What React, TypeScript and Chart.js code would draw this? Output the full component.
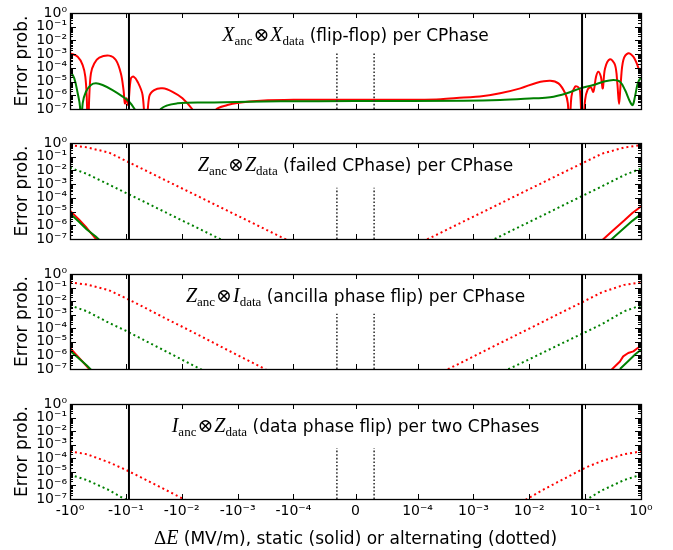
import React, { useEffect, useRef } from 'react';
import { Chart, Scale, registerables } from 'chart.js';

// ---------------- axis ticks ----------------
const X_MIN = -1;
const X_MAX = 1;
const X_TICK_VALUES = [-1, -0.1, -0.01, -0.001, -0.0001, 0, 0.0001, 0.001, 0.01, 0.1, 1];
const X_TICK_LABELS = ['-10⁰', '-10⁻¹', '-10⁻²', '-10⁻³', '-10⁻⁴', '0', '10⁻⁴', '10⁻³', '10⁻²', '10⁻¹', '10⁰'];
const Y_MIN = 1e-7;
const Y_MAX = 1;
const Y_DECADES = [1, 1e-1, 1e-2, 1e-3, 1e-4, 1e-5, 1e-6, 1e-7];
const Y_TICK_LABELS = ['10⁰', '10⁻¹', '10⁻²', '10⁻³', '10⁻⁴', '10⁻⁵', '10⁻⁶', '10⁻⁷'];

// ---------------- reference markers ----------------
const STATIC_LIMIT_X = [-0.088, 0.088];
const ALT_LIMIT_X = [-3e-5, 3e-5];
const ALT_LIMIT_TOP = [1.2e-3, 5.5e-4, 1.2e-3, 5.7e-4];

// ---------------- panel texts ----------------
const TITLE_OPS = [['X', 'X'], ['Z', 'Z'], ['Z', 'I'], ['I', 'Z']];
const TITLE_TEXTS = [
  '(flip-flop) per CPhase',
  '(failed CPhase) per CPhase',
  '(ancilla phase flip) per CPhase',
  '(data phase flip) per two CPhases',
];
const Y_TITLE = 'Error prob.';
const X_TITLE_REST = ' (MV/m), static (solid) or alternating (dotted)';

// ---------------- panel 1: flip-flop (static, solid) ----------------
const P1_RED_X = [-1, -0.728, -0.593, -0.532, -0.502, -0.477, -0.452, -0.422, -0.368, -0.299, -0.199, -0.151, -0.123, -0.11, -0.104, -0.097, -0.091, -0.0813, -0.0728, -0.0617, -0.0502, -0.0439, -0.0382, -0.0311, -0.022, -0.0146, -0.0097, -0.006, -0.0039, -0.0025, -0.00152, -0.000945, -0.00039, -0.0001, 0, 0.0001, 0.00026, 0.00067, 0.0013, 0.003, 0.0069, 0.0137, 0.0236, 0.0333, 0.0439, 0.049, 0.0524, 0.0568, 0.0661, 0.0757, 0.0813, 0.0894, 0.0998, 0.11, 0.126, 0.14, 0.157, 0.172, 0.191, 0.207, 0.227, 0.279, 0.343, 0.377, 0.405, 0.433, 0.483, 0.593, 0.728, 0.838, 0.93, 1];
const P1_RED_Y = [1.15e-3, 6.5e-4, 1.6e-4, 2.3e-5, 8e-7, 1e-9, 8e-7, 4e-5, 2.1e-4, 5.5e-4, 7.8e-4, 3.7e-4, 4e-5, 2.4e-6, 2.6e-7, 6e-7, 2e-7, 1.7e-5, 2.3e-5, 9.8e-6, 1.05e-6, 1e-9, 8e-7, 2.4e-6, 3.2e-6, 1.8e-6, 6e-7, 6e-8, 1e-9, 8e-8, 1.95e-7, 2.9e-7, 4e-7, 4.7e-7, 4.8e-7, 4.8e-7, 5.2e-7, 7e-7, 8e-7, 1.4e-6, 3.2e-6, 8.3e-6, 1.15e-5, 7.4e-6, 1.4e-6, 2.6e-7, 1e-9, 8e-7, 4.3e-6, 3.8e-6, 1.8e-6, 1e-9, 4.5e-7, 2.4e-6, 3.8e-6, 1.8e-6, 2.3e-5, 5.2e-5, 2.3e-5, 3.2e-6, 9.1e-5, 4.2e-4, 1.6e-4, 7.4e-6, 2.3e-7, 7.4e-6, 3.7e-4, 1.15e-3, 6.5e-4, 2.1e-4, 6.9e-5, 4.5e-5];
const P1_GREEN_X = [-1, -0.838, -0.728, -0.662, -0.636, -0.593, -0.518, -0.422, -0.343, -0.261, -0.173, -0.114, -0.0871, -0.0708, -0.0617, -0.039, -0.0236, -0.0119, -0.00263, -0.00017, 0, 0.00067, 0.003, 0.0119, 0.0236, 0.047, 0.0813, 0.14, 0.212, 0.32, 0.42, 0.518, 0.636, 0.71, 0.78, 0.859, 0.93, 1];
const P1_GREEN_Y = [6.9e-5, 1.7e-5, 1.4e-6, 1.5e-7, 1e-9, 2.6e-7, 1.8e-6, 5.6e-6, 7.4e-6, 5.6e-6, 2.4e-6, 8e-7, 3.4e-7, 1.1e-7, 4e-8, 1e-9, 1e-7, 2.6e-7, 3e-7, 3.6e-7, 3.8e-7, 4e-7, 4.5e-7, 6e-7, 7.1e-7, 1.4e-6, 3.2e-6, 5.6e-6, 9.8e-6, 1.3e-5, 9.8e-6, 2.4e-6, 3.4e-7, 1.95e-7, 8e-7, 5.6e-6, 1.3e-5, 1.8e-5];

// ---------------- alternating (dotted) curves, shared ΔE grid ----------------
const ALT_X = [-1, -0.5, -0.2, -0.1, -0.05, -0.02, -0.01, -0.005, -0.002, -0.001, -5e-4, -2e-4, -1e-4, 1e-4, 2e-4, 5e-4, 1e-3, 2e-3, 5e-3, 0.01, 0.02, 0.05, 0.1, 0.2, 0.5, 1];
const P2_RED_ALT = [0.71, 0.48, 0.2, 0.05, 0.0126, 2.0e-3, 5.0e-4, 1.26e-4, 2.0e-5, 5.0e-6, 1.26e-6, 2.0e-7, 5.0e-8, 4.3e-8, 1.7e-7, 1.07e-6, 4.3e-6, 1.7e-5, 1.07e-4, 4.3e-4, 1.7e-3, 0.0107, 0.042, 0.166, 0.47, 0.71];
const P2_GREEN_ALT = [0.016, 5.6e-3, 9.3e-4, 2.3e-4, 5.9e-5, 9.3e-6, 2.3e-6, 5.9e-7, 9.3e-8, null, null, null, null, null, null, null, null, 6.9e-8, 4.4e-7, 1.74e-6, 6.9e-6, 4.4e-5, 1.74e-4, 6.9e-4, 4.5e-3, 0.014];
const P3_RED_ALT = [0.24, 0.166, 0.063, 0.0166, 4.0e-3, 5.6e-4, 1.35e-4, 3.2e-5, 4.5e-6, 1.05e-6, 2.5e-7, 3.5e-8, null, null, 3.2e-8, 2.0e-7, 8.3e-7, 3.5e-6, 2.3e-5, 9.5e-5, 4.0e-4, 2.6e-3, 0.0107, 0.045, 0.158, 0.24];
const P3_GREEN_ALT = [4.9e-3, 1.8e-3, 2.5e-4, 6.6e-5, 1.5e-5, 2.2e-6, 5.0e-7, 1.17e-7, 1.7e-8, null, null, null, null, null, null, null, null, 2.2e-8, 1.35e-7, 5.2e-7, 2.1e-6, 1.3e-5, 5.1e-5, 2.0e-4, 1.8e-3, 4.9e-3];
const P4_RED_ALT = [3.2e-4, 2.0e-4, 5.0e-5, 1.4e-5, 3.4e-6, 5.0e-7, 1.17e-7, 2.8e-8, null, null, null, null, null, null, null, null, null, null, 2.5e-8, 1.26e-7, 6.3e-7, 4.5e-6, 2.0e-5, 6.3e-5, 2.0e-4, 3.2e-4];
const P4_GREEN_ALT = [6.2e-6, 2.5e-6, 4.5e-7, 8.9e-8, null, null, null, null, null, null, null, null, null, null, null, null, null, null, null, null, null, null, 7.9e-8, 4.3e-7, 2.5e-6, 6.2e-6];

// ---------------- static (solid) curves in panels 2 and 3 ----------------
const P2_STATIC_L_X = [-1, -0.7, -0.5, -0.35, -0.3];
const P2_RED_STATIC_L = [1.17e-5, 2.8e-6, 6.3e-7, 1.12e-7, 6.3e-8];
const P2_GREEN_STATIC_L = [7.4e-6, 1.9e-6, 5.0e-7, 1.6e-7, 8.9e-8];
const P2_STATIC_R_X = [0.2, 0.3, 0.5, 0.7, 1];
const P2_RED_STATIC_R = [7.9e-8, 3.5e-7, 2.2e-6, 7.9e-6, 2.3e-5];
const P2_GREEN_STATIC_R = [2.5e-8, 1.0e-7, 6.3e-7, 2.1e-6, 6.6e-6];

const P3_STATIC_L_X = [-1, -0.7, -0.5, -0.42];
const P3_RED_STATIC_L = [3.5e-6, 7.1e-7, 1.6e-7, 7.1e-8];
const P3_GREEN_STATIC_L = [2.2e-6, 6.3e-7, 1.8e-7, 8.9e-8];
const P3_RED_STATIC_R_X = [0.28, 0.42, 0.48, 0.59, 0.73, 0.85, 1];
const P3_RED_STATIC_R = [7e-8, 3.6e-7, 8.5e-7, 1.5e-6, 2.0e-6, 3.2e-6, 5.2e-6];
const P3_GREEN_STATIC_R_X = [0.42, 0.6, 0.8, 1];
const P3_GREEN_STATIC_R = [1e-7, 4e-7, 1.26e-6, 2.6e-6];

// ---------------- styling ----------------
const RED = '#ff0000';
const GREEN = '#008000';
const FONT = "'DejaVu Sans', sans-serif";
const MATH = "'Liberation Serif', 'DejaVu Serif', serif";

type Line = { xs: number[]; ys: (number | null)[]; color: string; dotted: boolean; smooth?: boolean };

const PANELS: { lines: Line[] }[] = [
  {
    lines: [
      { xs: P1_GREEN_X, ys: P1_GREEN_Y, color: GREEN, dotted: false, smooth: true },
      { xs: P1_RED_X, ys: P1_RED_Y, color: RED, dotted: false, smooth: true },
    ],
  },
  {
    lines: [
      { xs: P2_STATIC_L_X, ys: P2_GREEN_STATIC_L, color: GREEN, dotted: false },
      { xs: P2_STATIC_R_X, ys: P2_GREEN_STATIC_R, color: GREEN, dotted: false },
      { xs: P2_STATIC_L_X, ys: P2_RED_STATIC_L, color: RED, dotted: false },
      { xs: P2_STATIC_R_X, ys: P2_RED_STATIC_R, color: RED, dotted: false },
      { xs: ALT_X, ys: P2_GREEN_ALT, color: GREEN, dotted: true },
      { xs: ALT_X, ys: P2_RED_ALT, color: RED, dotted: true },
    ],
  },
  {
    lines: [
      { xs: P3_STATIC_L_X, ys: P3_GREEN_STATIC_L, color: GREEN, dotted: false },
      { xs: P3_GREEN_STATIC_R_X, ys: P3_GREEN_STATIC_R, color: GREEN, dotted: false },
      { xs: P3_STATIC_L_X, ys: P3_RED_STATIC_L, color: RED, dotted: false },
      { xs: P3_RED_STATIC_R_X, ys: P3_RED_STATIC_R, color: RED, dotted: false },
      { xs: ALT_X, ys: P3_GREEN_ALT, color: GREEN, dotted: true },
      { xs: ALT_X, ys: P3_RED_ALT, color: RED, dotted: true },
    ],
  },
  {
    lines: [
      { xs: ALT_X, ys: P4_GREEN_ALT, color: GREEN, dotted: true },
      { xs: ALT_X, ys: P4_RED_ALT, color: RED, dotted: true },
    ],
  },
];

// layout of the four stacked panels (page pixels)
const PANEL_TOP = [0, 130, 260, 390];
const PANEL_H = [130, 130, 130, 160];
const PAD_TOP = [13, 13, 14, 14];
const PAD_BOTTOM = [21, 21, 21, 21];
const X_AXIS_H = [0, 0, 0, 30];
const Y_AXIS_W = 70;
const PAD_RIGHT = 32;

// ---------------- symmetric-log scale (matplotlib symlog, linthresh 1e-4) ----------------
const LINTHRESH = 1e-4;
const LINSCALE = 1 / (1 - 1 / 10);
function symT(v: number): number {
  const a = Math.abs(v);
  if (a <= LINTHRESH) return (v / LINTHRESH) * LINSCALE;
  return Math.sign(v) * (LINSCALE + Math.log10(a / LINTHRESH));
}
function symInv(t: number): number {
  const a = Math.abs(t);
  if (a <= LINSCALE) return (t / LINSCALE) * LINTHRESH;
  return Math.sign(t) * LINTHRESH * Math.pow(10, a - LINSCALE);
}

class SymlogScale extends (Scale as any) {
  _tStart = 0;
  _tRange = 1;
  parse(raw: any) {
    return typeof raw === 'number' && isFinite(raw) ? raw : null;
  }
  determineDataLimits() {
    const { min, max } = (this as any).getMinMax(true);
    (this as any).min = isFinite(min) ? min : X_MIN;
    (this as any).max = isFinite(max) ? max : X_MAX;
  }
  buildTicks() {
    return X_TICK_VALUES.map((v) => ({ value: v }));
  }
  configure() {
    super.configure();
    this._tStart = symT((this as any).min);
    this._tRange = symT((this as any).max) - this._tStart;
  }
  getLabelForValue(v: number) {
    return String(v);
  }
  getPixelForValue(v: number) {
    return (this as any).getPixelForDecimal((symT(v) - this._tStart) / this._tRange);
  }
  getValueForPixel(p: number) {
    return symInv(this._tStart + (this as any).getDecimalForPixel(p) * this._tRange);
  }
}
(SymlogScale as any).id = 'symlog';
(SymlogScale as any).defaults = {};

Chart.register(...registerables, SymlogScale as any);

// ---------------- frame + inward ticks (matplotlib look) ----------------
const framePlugin = {
  id: 'mplFrame',
  afterDraw(chart: any) {
    const { ctx, chartArea: a, scales } = chart;
    const xs = scales.x;
    const ys = scales.y;
    ctx.save();
    ctx.strokeStyle = '#000';
    ctx.lineWidth = 1;
    ctx.beginPath();
    xs.ticks.forEach((t: any) => {
      const p = Math.round(xs.getPixelForValue(t.value)) + 0.5;
      ctx.moveTo(p, a.bottom);
      ctx.lineTo(p, a.bottom - 5);
      ctx.moveTo(p, a.top);
      ctx.lineTo(p, a.top + 5);
    });
    ys.ticks.forEach((t: any) => {
      const len = t.major ? 6 : 3;
      const p = Math.round(ys.getPixelForValue(t.value)) + 0.5;
      ctx.moveTo(a.left, p);
      ctx.lineTo(a.left + len, p);
      ctx.moveTo(a.right, p);
      ctx.lineTo(a.right - len, p);
    });
    ctx.stroke();
    ctx.lineWidth = 1.3;
    ctx.strokeRect(Math.round(a.left) + 0.5, Math.round(a.top) + 0.5, Math.round(a.right - a.left), Math.round(a.bottom - a.top));
    ctx.restore();
  },
};

function isDecade(v: number) {
  const l = Math.log10(v);
  return Math.abs(l - Math.round(l)) < 1e-6;
}

function makeConfig(p: number): any {
  const panel = PANELS[p];
  const isBottom = p === PANELS.length - 1;
  const datasets: any[] = [];
  STATIC_LIMIT_X.forEach((x) =>
    datasets.push({
      data: [{ x, y: Y_MIN }, { x, y: Y_MAX }],
      borderColor: '#000',
      borderWidth: 2,
      pointRadius: 0,
    })
  );
  ALT_LIMIT_X.forEach((x) =>
    datasets.push({
      data: [{ x, y: Y_MIN }, { x, y: ALT_LIMIT_TOP[p] }],
      borderColor: '#333',
      borderWidth: 1.6,
      borderDash: [1.6, 2],
      pointRadius: 0,
    })
  );
  panel.lines.forEach((l) =>
    datasets.push({
      data: l.xs.map((x, i) => ({ x, y: l.ys[i] })),
      borderColor: l.color,
      borderWidth: 2,
      borderDash: l.dotted ? [2, 3] : [],
      borderCapStyle: 'butt',
      borderJoinStyle: 'round',
      pointRadius: 0,
      spanGaps: false,
      tension: l.smooth ? 0.35 : 0,
    })
  );
  const tickFont = { family: FONT, size: 14 };
  return {
    type: 'line',
    data: { datasets },
    plugins: [framePlugin],
    options: {
      animation: false,
      responsive: false,
      devicePixelRatio: 1,
      events: [],
      layout: { padding: { left: 0, right: PAD_RIGHT, top: PAD_TOP[p], bottom: PAD_BOTTOM[p] } },
      plugins: { legend: { display: false }, tooltip: { enabled: false }, title: { display: false } },
      scales: {
        x: {
          type: 'symlog',
          min: X_MIN,
          max: X_MAX,
          grid: { display: false, drawTicks: false },
          border: { display: false },
          afterFit: (s: any) => {
            s.height = X_AXIS_H[p];
          },
          ticks: {
            display: isBottom,
            autoSkip: false,
            maxRotation: 0,
            minRotation: 0,
            padding: 4,
            color: '#000',
            font: tickFont,
            callback: (_v: any, i: number) => X_TICK_LABELS[i],
          },
        },
        y: {
          type: 'logarithmic',
          min: Y_MIN,
          max: Y_MAX,
          afterBuildTicks: (s: any) => {
            const ticks: any[] = [];
            Y_DECADES.forEach((d) => {
              ticks.push({ value: d, major: true });
              if (d < 1) for (let k = 2; k <= 9; k++) ticks.push({ value: d * k, major: false });
            });
            s.ticks = ticks.sort((a, b) => a.value - b.value);
          },
          afterFit: (s: any) => {
            s.width = Y_AXIS_W;
          },
          grid: { display: false, drawTicks: false },
          border: { display: false },
          ticks: {
            autoSkip: false,
            padding: 3,
            color: '#000',
            font: tickFont,
            callback: (v: number) => {
              if (!isDecade(v)) return '';
              const i = Y_DECADES.findIndex((d) => Math.abs(Math.log10(d) - Math.log10(v)) < 1e-6);
              return i >= 0 ? Y_TICK_LABELS[i] : '';
            },
          },
          title: {
            display: true,
            text: Y_TITLE,
            color: '#000',
            font: { family: FONT, size: 17 },
            padding: { top: 12, bottom: 0 },
          },
        },
      },
    },
  };
}

function Panel({ p }: { p: number }) {
  const ref = useRef<HTMLCanvasElement>(null);
  useEffect(() => {
    const chart = new Chart(ref.current as HTMLCanvasElement, makeConfig(p));
    return () => chart.destroy();
  }, [p]);
  return (
    <canvas
      ref={ref}
      width={673}
      height={PANEL_H[p]}
      style={{ position: 'absolute', left: 0, top: PANEL_TOP[p], width: 673, height: PANEL_H[p], display: 'block' }}
    />
  );
}

const mathLetter: React.CSSProperties = { fontFamily: MATH, fontStyle: 'italic', fontSize: 20 };
const mathSub: React.CSSProperties = { fontFamily: MATH, fontSize: 13, position: 'relative', top: 4 };

function PanelTitle({ p }: { p: number }) {
  const [a, b] = TITLE_OPS[p];
  const chartTop = PANEL_TOP[p] + PAD_TOP[p];
  return (
    <div
      style={{
        position: 'absolute',
        left: Y_AXIS_W,
        width: 673 - Y_AXIS_W - PAD_RIGHT,
        top: chartTop + 10,
        lineHeight: '22px',
        textAlign: 'center',
        fontFamily: FONT,
        fontSize: 17,
        color: '#000',
        whiteSpace: 'nowrap',
      }}
    >
      <span style={mathLetter}>{a}</span>
      <span style={mathSub}>anc</span>
      <span style={{ fontFamily: MATH, fontSize: 19, margin: '0 1px' }}>⊗</span>
      <span style={mathLetter}>{b}</span>
      <span style={mathSub}>data</span> {TITLE_TEXTS[p]}
    </div>
  );
}

export default function App() {
  return (
    <div style={{ position: 'fixed', left: 0, top: 0, width: 673, height: 550, background: '#fff', overflow: 'hidden' }}>
      {PANELS.map((_, p) => (
        <Panel key={'c' + p} p={p} />
      ))}
      {PANELS.map((_, p) => (
        <PanelTitle key={'t' + p} p={p} />
      ))}
      <div
        style={{
          position: 'absolute',
          left: Y_AXIS_W,
          width: 673 - Y_AXIS_W - PAD_RIGHT,
          top: 526,
          lineHeight: '22px',
          textAlign: 'center',
          fontFamily: FONT,
          fontSize: 17,
          color: '#000',
          whiteSpace: 'nowrap',
        }}
      >
        <span style={{ fontFamily: MATH, fontSize: 19 }}>Δ</span>
        <span style={mathLetter}>E</span>
        {X_TITLE_REST}
      </div>
    </div>
  );
}
